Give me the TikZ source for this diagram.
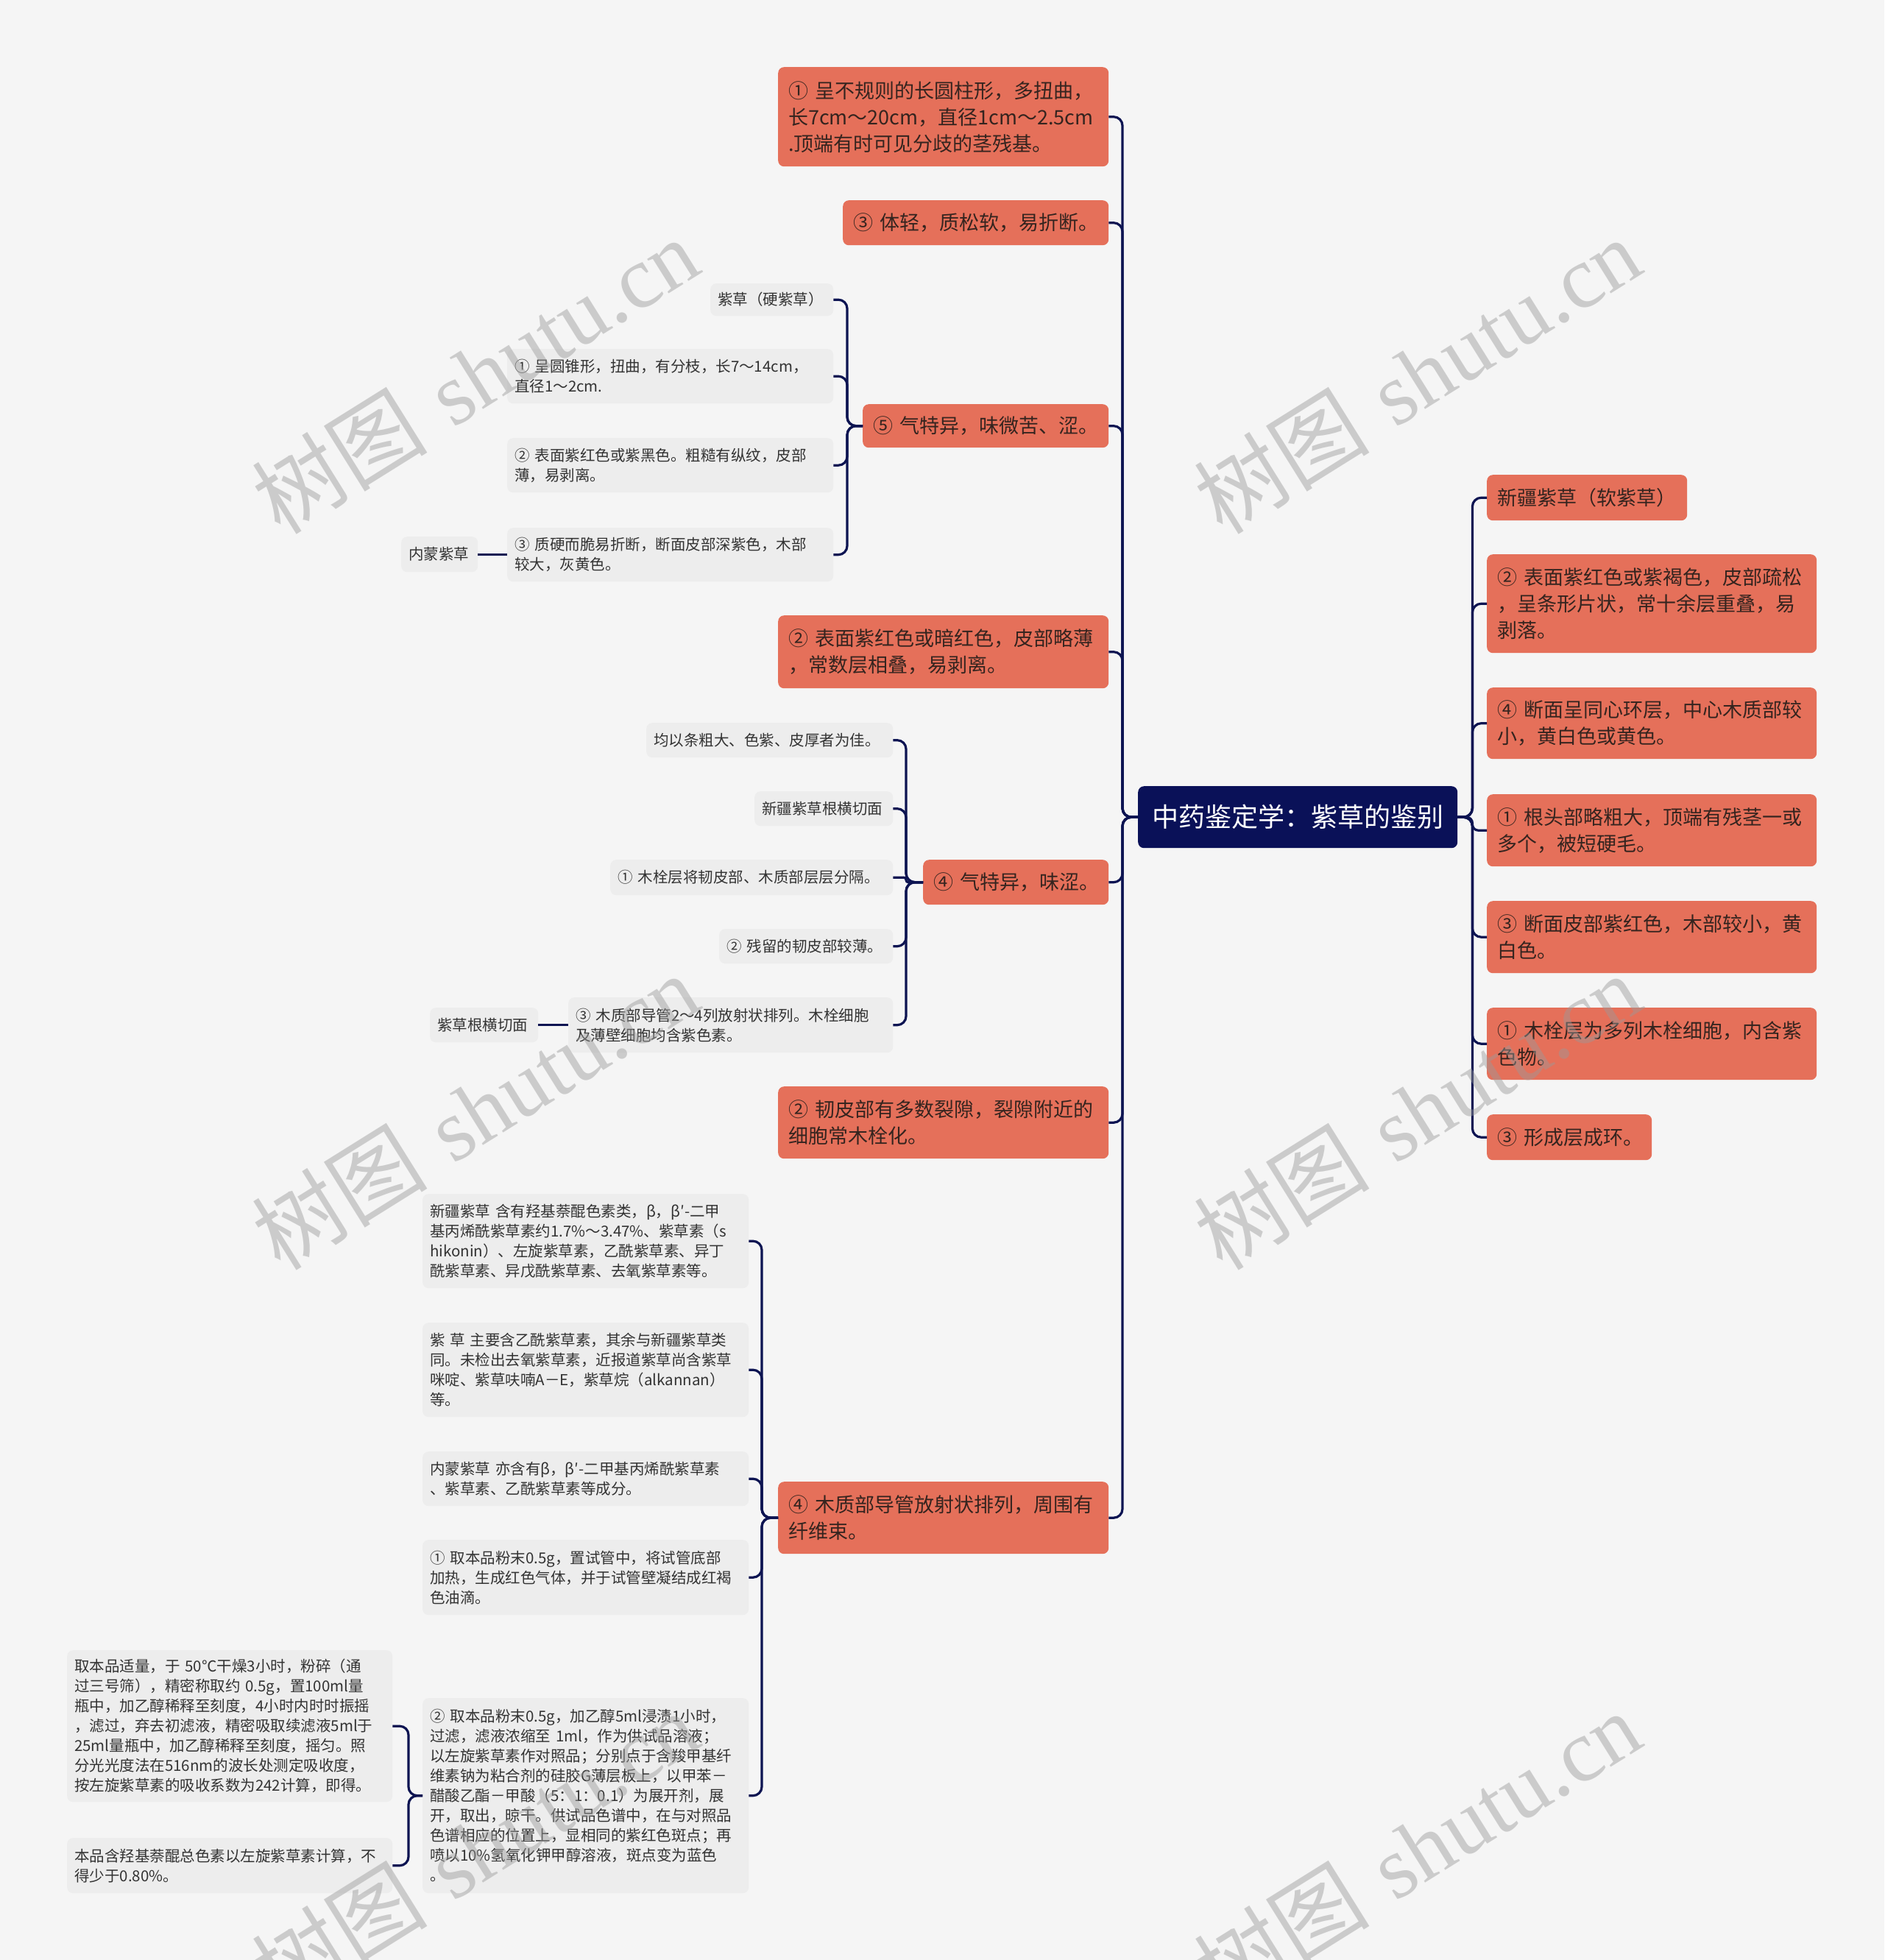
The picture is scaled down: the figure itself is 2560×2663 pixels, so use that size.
\documentclass[tikz,border=0pt]{standalone}
\usepackage{fontspec}
\newfontfamily\cjk{Noto Sans CJK SC}
\newfontfamily\wmserif{Liberation Serif}
\definecolor{bgc}{HTML}{F5F5F5}
\definecolor{orangec}{HTML}{E5705A}
\definecolor{otext}{HTML}{35241F}
\definecolor{rootc}{HTML}{0A1158}
\definecolor{connc}{HTML}{0D1452}
\definecolor{grayc}{HTML}{EDEDED}
\definecolor{gtext}{HTML}{333333}
\definecolor{wmc}{HTML}{9A9A9A}
\tikzset{
  conn/.style={draw=connc, line width=3.2pt, rounded corners=12pt},
  ob/.style={rectangle, rounded corners=8pt, fill=orangec, text=otext,
    font=\cjk\fontsize{27}{36}\selectfont, inner xsep=14pt, inner ysep=0pt,
    anchor=north west, align=left},
  gb/.style={rectangle, rounded corners=8pt, fill=grayc, text=gtext,
    font=\cjk\fontsize{20.5}{27}\selectfont, inner xsep=10pt, inner ysep=0pt,
    anchor=north west, align=left},
  rootbox/.style={rectangle, rounded corners=8pt, fill=rootc, text=white,
    font=\cjk\fontsize{36}{44}\selectfont, inner sep=0pt, anchor=north west, align=center},
  wm/.style={text=wmc, text opacity=0.45, font=\fontsize{120}{120}\selectfont, rotate=32, inner sep=0pt}
}
\begin{document}
\begin{tikzpicture}[x=1pt,y=-1pt]
\fill[bgc] (0,0) rectangle (2560,2663);
\useasboundingbox (0,0) rectangle (2560,2663);

% root
\node[rootbox, minimum width=434pt, minimum height=84pt] (root) at (1546,1068) {中药鉴定学：紫草的鉴别};

% left orange
\node[ob, minimum width=449pt, minimum height=135pt, text width=421pt] (l1) at (1057,91)
 {①~呈不规则的长圆柱形，多扭曲，\\长7cm～20cm，直径1cm～2.5cm\\.顶端有时可见分歧的茎残基。};
\node[ob, minimum width=361pt, minimum height=61pt, text width=333pt] (l2) at (1145,272)
 {③~体轻，质松软，易折断。};
\node[ob, minimum width=334pt, minimum height=59pt, text width=306pt] (l3) at (1172,549)
 {⑤~气特异，味微苦、涩。};
\node[ob, minimum width=449pt, minimum height=99pt, text width=421pt] (l4) at (1057,836)
 {②~表面紫红色或暗红色，皮部略薄\\，常数层相叠，易剥离。};
\node[ob, minimum width=252pt, minimum height=61pt, text width=224pt] (l5) at (1254,1168)
 {④~气特异，味涩。};
\node[ob, minimum width=449pt, minimum height=98pt, text width=421pt] (l6) at (1057,1476)
 {②~韧皮部有多数裂隙，裂隙附近的\\细胞常木栓化。};
\node[ob, minimum width=449pt, minimum height=98pt, text width=421pt] (l7) at (1057,2013)
 {④~木质部导管放射状排列，周围有\\纤维束。};

% right orange
\node[ob, minimum width=272pt, minimum height=62pt, text width=244pt] (r1) at (2020,645)
 {新疆紫草（软紫草）};
\node[ob, minimum width=448pt, minimum height=134pt, text width=420pt] (r2) at (2020,753)
 {②~表面紫红色或紫褐色，皮部疏松\\，呈条形片状，常十余层重叠，易\\剥落。};
\node[ob, minimum width=448pt, minimum height=97pt, text width=420pt] (r3) at (2020,934)
 {④~断面呈同心环层，中心木质部较\\小，黄白色或黄色。};
\node[ob, minimum width=448pt, minimum height=98pt, text width=420pt] (r4) at (2020,1079)
 {①~根头部略粗大，顶端有残茎一或\\多个，被短硬毛。};
\node[ob, minimum width=448pt, minimum height=98pt, text width=420pt] (r5) at (2020,1224)
 {③~断面皮部紫红色，木部较小，黄\\白色。};
\node[ob, minimum width=448pt, minimum height=98pt, text width=420pt] (r6) at (2020,1369)
 {①~木栓层为多列木栓细胞，内含紫\\色物。};
\node[ob, minimum width=224pt, minimum height=62pt, text width=196pt] (r7) at (2020,1514)
 {③~形成层成环。};

% children of l3
\node[gb, minimum width=167pt, minimum height=44pt, text width=147pt] (g1) at (965,385)
 {紫草（硬紫草）};
\node[gb, minimum width=443pt, minimum height=74pt, text width=423pt] (g2) at (689,474)
 {①~呈圆锥形，扭曲，有分枝，长7～14cm，\\直径1～2cm.};
\node[gb, minimum width=443pt, minimum height=74pt, text width=423pt] (g3) at (689,595)
 {②~表面紫红色或紫黑色。粗糙有纵纹，皮部\\薄，易剥离。};
\node[gb, minimum width=443pt, minimum height=73pt, text width=423pt] (g4) at (689,717)
 {③~质硬而脆易折断，断面皮部深紫色，木部\\较大，灰黄色。};
\node[gb, minimum width=104pt, minimum height=48pt, text width=84pt] (g5) at (545,729)
 {内蒙紫草};

% children of l5
\node[gb, minimum width=335pt, minimum height=47pt, text width=315pt] (h1) at (878,982)
 {均以条粗大、色紫、皮厚者为佳。};
\node[gb, minimum width=188pt, minimum height=47pt, text width=168pt] (h2) at (1025,1075)
 {新疆紫草根横切面};
\node[gb, minimum width=384pt, minimum height=48pt, text width=364pt] (h3) at (829,1168)
 {①~木栓层将韧皮部、木质部层层分隔。};
\node[gb, minimum width=236pt, minimum height=47pt, text width=216pt] (h4) at (977,1262)
 {②~残留的韧皮部较薄。};
\node[gb, minimum width=441pt, minimum height=75pt, text width=421pt] (h5) at (772,1355)
 {③~木质部导管2～4列放射状排列。木栓细胞\\及薄壁细胞均含紫色素。};
\node[gb, minimum width=147pt, minimum height=47pt, text width=127pt] (h6) at (584,1369)
 {紫草根横切面};

% children of l7
\node[gb, minimum width=443pt, minimum height=128pt, text width=423pt] (k1) at (574,1622)
 {新疆紫草~含有羟基萘醌色素类，β，β′-二甲\\基丙烯酰紫草素约1.7\%～3.47\%、紫草素（s\\hikonin）、左旋紫草素，乙酰紫草素、异丁\\酰紫草素、异戊酰紫草素、去氧紫草素等。};
\node[gb, minimum width=443pt, minimum height=128pt, text width=423pt] (k2) at (574,1797)
 {紫~草~主要含乙酰紫草素，其余与新疆紫草类\\同。未检出去氧紫草素，近报道紫草尚含紫草\\咪啶、紫草呋喃A－E，紫草烷（alkannan）\\等。};
\node[gb, minimum width=443pt, minimum height=74pt, text width=423pt] (k3) at (574,1972)
 {内蒙紫草~亦含有β，β′-二甲基丙烯酰紫草素\\、紫草素、乙酰紫草素等成分。};
\node[gb, minimum width=443pt, minimum height=102pt, text width=423pt] (k4) at (574,2092)
 {①~取本品粉末0.5g，置试管中，将试管底部\\加热，生成红色气体，并于试管壁凝结成红褐\\色油滴。};
\node[gb, minimum width=443pt, minimum height=265pt, text width=423pt] (k5) at (574,2307)
 {②~取本品粉末0.5g，加乙醇5ml浸渍1小时，\\过滤，滤液浓缩至~1ml，作为供试品溶液；\\以左旋紫草素作对照品；分别点于含羧甲基纤\\维素钠为粘合剂的硅胶G薄层板上，以甲苯－\\醋酸乙酯－甲酸（5：1：0.1）为展开剂，展\\开，取出，晾干。供试品色谱中，在与对照品\\色谱相应的位置上，显相同的紫红色斑点；再\\喷以10\%氢氧化钾甲醇溶液，斑点变为蓝色\\。};

% children of k5
\node[gb, minimum width=442pt, minimum height=206pt, text width=422pt] (m1) at (91,2242)
 {取本品适量，于~50℃干燥3小时，粉碎（通\\过三号筛），精密称取约~0.5g，置100ml量\\瓶中，加乙醇稀释至刻度，4小时内时时振摇\\，滤过，弃去初滤液，精密吸取续滤液5ml于\\25ml量瓶中，加乙醇稀释至刻度，摇匀。照\\分光光度法在516nm的波长处测定吸收度，\\按左旋紫草素的吸收系数为242计算，即得。};
\node[gb, minimum width=442pt, minimum height=75pt, text width=422pt] (m2) at (91,2497)
 {本品含羟基萘醌总色素以左旋紫草素计算，不\\得少于0.80\%。};

% connectors
\foreach \c in {l1,l2,l3,l4,l6,l7}
  \draw[conn] (root.west) -- ([xshift=-21pt]root.west) |- (\c.east);
\draw[conn] (root.west) -- ([xshift=-21pt]root.west) |- (l5.east);
\foreach \c in {r1,r2,r3,r5,r6,r7}
  \draw[conn] (root.east) -- ([xshift=20pt]root.east) |- (\c.west);
\draw[conn, rounded corners=8pt] (root.east) -- ([xshift=20pt]root.east) |- (r4.west);

\foreach \c in {g1,g2,g3,g4}
  \draw[conn] (l3.west) -- ([xshift=-21pt]l3.west) |- (\c.east);
\draw[conn] (g4.west) -- (g4.west -| g5.east);

\foreach \c in {h1,h2,h4,h5}
  \draw[conn] (l5.west) -- ([xshift=-23pt]l5.west) |- (\c.east);
\draw[conn, rounded corners=3pt] (l5.west) -- ([xshift=-23pt]l5.west) |- (h3.east);
\draw[conn] (h5.west) -- (h5.west -| h6.east);

\foreach \c in {k1,k2,k3,k4,k5}
  \draw[conn] (l7.west) -- ([xshift=-22pt]l7.west) |- (\c.east);
\foreach \c in {m1,m2}
  \draw[conn] (k5.west) -- ([xshift=-19pt]k5.west) |- (\c.east);

% watermarks
\foreach \p in {(645,510),(1925,510),(645,1510),(1925,1510),(645,2512),(1925,2512)}
  \node[wm] at \p {{\cjk 树图}~{\wmserif shutu.cn}};
\end{tikzpicture}
\end{document}
